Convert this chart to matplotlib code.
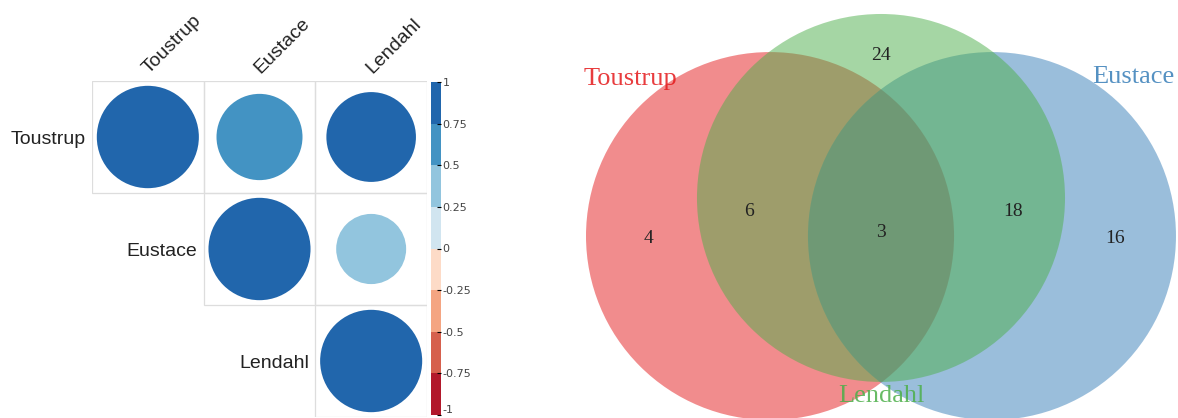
import matplotlib as mpl
import matplotlib.pyplot as plt
import numpy as np
from matplotlib.colors import BoundaryNorm, ListedColormap
from matplotlib.patches import Circle, Rectangle

# Correlation matrix between the three sources
names = ['Toustrup', 'Eustace', 'Lendahl']
corr = [[1.00, 0.71, 0.77],
        [0.71, 1.00, 0.47],
        [0.77, 0.47, 1.00]]

# Colour scale steps of the correlation legend
bounds = [-1, -0.75, -0.5, -0.25, 0, 0.25, 0.5, 0.75, 1]
bound_labels = ['-1', '-0.75', '-0.5', '-0.25', '0', '0.25', '0.5', '0.75', '1']
rdbu = ['#b2182b', '#d6604d', '#f4a582', '#fddbc7',
        '#d1e5f0', '#92c5de', '#4393c3', '#2166ac']

# Venn counts per region
set_names = ['Toustrup', 'Eustace', 'Lendahl']
set_colors = ['#e41a1c', '#377eb8', '#4daf4a']
region_keys = ['T', 'TL', 'L', 'TEL', 'EL', 'E']
region_counts = [4, 6, 24, 3, 18, 16]

W, H = 1178, 418
fig = plt.figure(figsize=(W / 100, H / 100), dpi=100)
cmap = ListedColormap(rdbu)
norm = BoundaryNorm(bounds, cmap.N)

# ---- correlation plot (upper triangle) ----
ax = fig.add_axes([92 / W, 1 / H, 335 / W, 336 / H])
ax.set_xlim(0, 3)
ax.set_ylim(3, 0)
ax.axis('off')
n = len(names)
for i in range(n):
    for j in range(i, n):
        ax.add_patch(Rectangle((j, i), 1, 1, fill=False, edgecolor='#dddddd', lw=0.9))
        v = corr[i][j]
        ax.add_patch(Circle((j + 0.5, i + 0.5), 0.457 * np.sqrt(abs(v)),
                            facecolor=cmap(norm(v)), lw=0))
    ax.text(i - 0.055, i + 0.5, names[i], ha='right', va='center_baseline',
            fontsize=14, color='#222222', family='Liberation Sans')
for j in range(n):
    ax.text(j + 0.51, -0.06, names[j], rotation=45, rotation_mode='anchor',
            ha='left', va='baseline', fontsize=14, color='#222222',
            family='Liberation Sans')

# colour legend
cax = fig.add_axes([431 / W, 3 / H, 10 / W, 333 / H])
cb = mpl.colorbar.ColorbarBase(cax, cmap=cmap, norm=norm, ticks=bounds,
                               spacing='proportional')
cb.outline.set_visible(False)
cb.ax.set_yticklabels(bound_labels)
cb.ax.tick_params(direction='in', length=3, width=0.8, pad=1,
                  labelsize=8, labelcolor='#444444')
cb.ax.get_yticklabels()[0].set_va('bottom')

# ---- Venn diagram, unit radius ----
vx = fig.add_axes([540 / W, 0, 638 / W, 1])
vx.set_xlim(-1.853, 1.614)
vx.set_ylim(-0.989, 1.283)
vx.axis('off')
centers = {'Toustrup': (-0.603, 0.0), 'Eustace': (0.603, 0.0), 'Lendahl': (0.0, 0.207)}
for name, col in zip(set_names, set_colors):
    vx.add_patch(Circle(centers[name], 1.0, facecolor=col, alpha=0.5, lw=0))

# set names
name_pos = {'Toustrup': (-1.364, 0.821), 'Eustace': (1.37, 0.832), 'Lendahl': (0.0, -0.902)}
for name, col in zip(set_names, set_colors):
    vx.text(name_pos[name][0], name_pos[name][1], name, ha='center', va='baseline',
            fontsize=19, color=col, alpha=0.85, family='Liberation Serif')

# region counts
region_pos = {'T': (-1.266, -0.04), 'TL': (-0.717, 0.11), 'L': (0.0, 0.957),
              'TEL': (0.0, -0.005), 'EL': (0.717, 0.11), 'E': (1.272, -0.04)}
for key, cnt in zip(region_keys, region_counts):
    vx.text(region_pos[key][0], region_pos[key][1], str(cnt), ha='center',
            va='baseline', fontsize=14, color='#222222', family='Liberation Serif')

plt.savefig('out.png', dpi=100)
